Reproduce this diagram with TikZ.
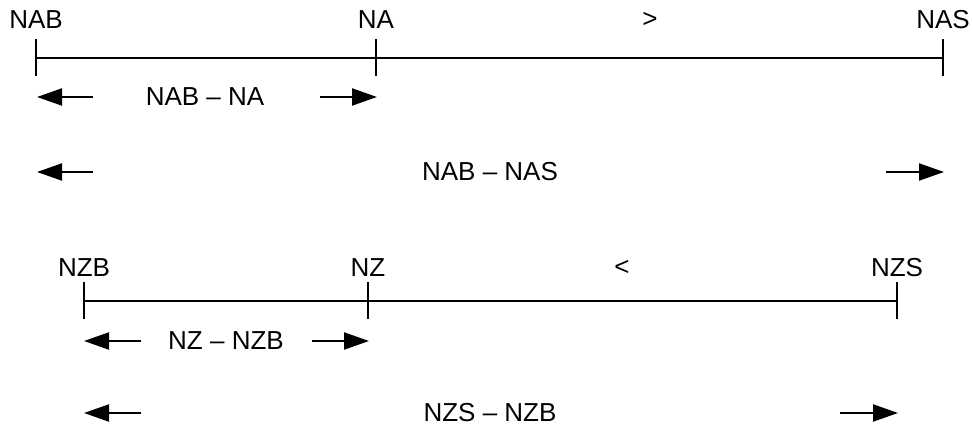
\documentclass[tikz,border=0pt]{standalone}
\usepackage{fontspec}
\setmainfont{Liberation Sans}
\usetikzlibrary{arrows.meta}
\begin{document}
\begin{tikzpicture}[x=1pt,y=-1pt,
  lbl/.style={inner sep=0pt,font=\fontsize{26}{30}\selectfont},
  axis/.style={line width=1.3pt},
  dimarrow/.style={line width=2pt,-{Triangle[length=25pt,width=17pt]}}]
\useasboundingbox (0,0) rectangle (973,427);
% top scale
\coordinate (tNAB) at (36,58);
\coordinate (tNA) at (376,58);
\coordinate (tNAS) at (943,58);
\draw[axis] (tNAB) -- (tNAS);
\foreach \c in {tNAB,tNA,tNAS} \draw[axis] ([yshift=-18pt]\c) -- ([yshift=19pt]\c);
\node[lbl] (NAB) at (36,20) {NAB};
\node[lbl] (NA) at (376,20) {NA};
\node[lbl] (gt) at (650,20) {>};
\node[lbl] (NAS) at (943,20) {NAS};
% row 1
\node[lbl] (d1) at (205,97) {NAB – NA};
\coordinate (a1l) at (93,97); \coordinate (a1le) at (37,97);
\coordinate (a1r) at (320,97); \coordinate (a1re) at (377,97);
\draw[dimarrow] (a1l) -- (a1le);
\draw[dimarrow] (a1r) -- (a1re);
% row 2
\node[lbl] (d2) at (490,172) {NAB – NAS};
\coordinate (a2l) at (93,172); \coordinate (a2le) at (37,172);
\coordinate (a2r) at (886,172); \coordinate (a2re) at (944,172);
\draw[dimarrow] (a2l) -- (a2le);
\draw[dimarrow] (a2r) -- (a2re);
% bottom scale
\coordinate (tNZB) at (84,301);
\coordinate (tNZ) at (368,301);
\coordinate (tNZS) at (897,301);
\draw[axis] (tNZB) -- (tNZS);
\foreach \c in {tNZB,tNZ,tNZS} \draw[axis] ([yshift=-18pt]\c) -- ([yshift=19pt]\c);
\node[lbl] (NZB) at (84,268) {NZB};
\node[lbl] (NZ) at (368,268) {NZ};
\node[lbl] (lt) at (622,268) {<};
\node[lbl] (NZS) at (897,268) {NZS};
% row 3
\node[lbl] (d3) at (226,341) {NZ – NZB};
\coordinate (a3l) at (141,341); \coordinate (a3le) at (84,341);
\coordinate (a3r) at (312,341); \coordinate (a3re) at (369,341);
\draw[dimarrow] (a3l) -- (a3le);
\draw[dimarrow] (a3r) -- (a3re);
% row 4
\node[lbl] (d4) at (490,413) {NZS – NZB};
\coordinate (a4l) at (141,413); \coordinate (a4le) at (84,413);
\coordinate (a4r) at (840,413); \coordinate (a4re) at (898,413);
\draw[dimarrow] (a4l) -- (a4le);
\draw[dimarrow] (a4r) -- (a4re);
\end{tikzpicture}
\end{document}
